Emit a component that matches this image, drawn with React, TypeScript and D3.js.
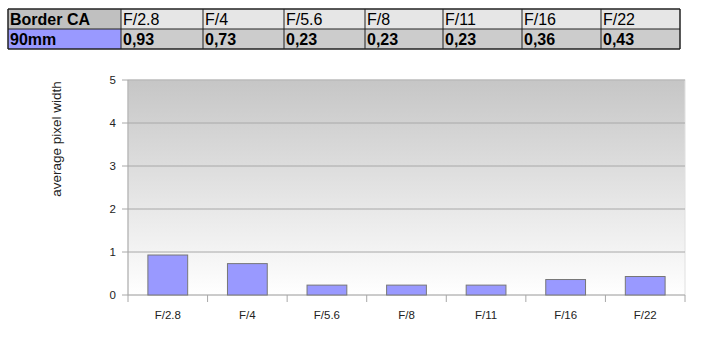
import React from "react";
import * as d3 from "d3";

const rowLabel = "Border CA";
const seriesName = "90mm";
const categories = ["F/2.8", "F/4", "F/5.6", "F/8", "F/11", "F/16", "F/22"];
const values = [0.93, 0.73, 0.23, 0.23, 0.23, 0.36, 0.43];
const tableValues = ["0,93", "0,73", "0,23", "0,23", "0,23", "0,36", "0,43"];
const yTicks = [0, 1, 2, 3, 4, 5];
const yLabel = "average pixel width";

export default function App() {
  const W = 705, H = 350;
  // table
  const colEdges = [8, 121, 203, 284, 365, 443, 522, 601, 680];
  const rowEdges = [9, 29, 49];
  // plot
  const left = 128, right = 685, top = 80, bottom = 295;
  const x = d3.scaleBand<string>().domain(categories).range([left, right]).paddingInner(0.5).paddingOuter(0.25);
  const xb = d3.scaleBand<string>().domain(categories).range([left, right]);
  const y = d3.scaleLinear().domain([0, 5]).range([bottom, top]);
  const font = "'Liberation Sans', Arial, sans-serif";

  return (
    <svg width={W} height={H} style={{ position: "absolute", left: 0, top: 0 }}>
      <defs>
        <linearGradient id="bg" x1="0" y1="0" x2="0" y2="1">
          <stop offset="0" stopColor="#c6c6c6" />
          <stop offset="1" stopColor="#ffffff" />
        </linearGradient>
      </defs>
      <rect width={W} height={H} fill="#fff" />
      {/* table */}
      {[0, 1].map((r) =>
        colEdges.slice(0, -1).map((cx, c) => {
          let fill = "#e6e6e6";
          if (r === 0 && c === 0) fill = "#c0c0c0";
          if (r === 1) fill = c === 0 ? "#9999ff" : "#cccccc";
          const txt = c === 0 ? (r === 0 ? rowLabel : seriesName) : r === 0 ? categories[c - 1] : tableValues[c - 1];
          const bold = r === 1 || c === 0;
          return (
            <g key={`${r}-${c}`}>
              <rect x={cx} y={rowEdges[r]} width={colEdges[c + 1] - cx} height={rowEdges[r + 1] - rowEdges[r]} fill={fill} />
              <text x={cx + 2} y={rowEdges[r] + 16} fontFamily={font} fontSize={16} fontWeight={bold ? "bold" : "normal"} fill="#000">
                {txt}
              </text>
            </g>
          );
        })
      )}
      {rowEdges.map((ry, i) => (
        <line key={"h" + i} x1={colEdges[0]} x2={colEdges[colEdges.length - 1]} y1={ry} y2={ry} stroke="#222" strokeWidth={i === 0 || i === 2 ? 1.5 : 1} />
      ))}
      {colEdges.map((cx, i) => (
        <line key={"v" + i} x1={cx} x2={cx} y1={rowEdges[0]} y2={rowEdges[2]} stroke="#222" strokeWidth={i === 0 || i === colEdges.length - 1 ? 1.5 : 1} />
      ))}

      {/* plot */}
      <rect x={left} y={top} width={right - left} height={bottom - top} fill="url(#bg)" stroke="#e0e0e0" />
      {yTicks.map((t) => (
        <g key={"y" + t}>
          <line x1={left - 6} x2={right} y1={y(t)} y2={y(t)} stroke="#a8a8a8" strokeWidth={1} />
          <text x={116} y={y(t) + 4} textAnchor="end" fontFamily={font} fontSize={11.5} fill="#222">
            {t}
          </text>
        </g>
      ))}
      <line x1={left} x2={left} y1={top} y2={bottom + 7} stroke="#a8a8a8" />
      {categories.map((c, i) => (
        <line key={"xt" + i} x1={(xb(c) as number) + xb.bandwidth()} x2={(xb(c) as number) + xb.bandwidth()} y1={bottom} y2={bottom + 7} stroke="#a8a8a8" />
      ))}
      {categories.map((c, i) => (
        <rect key={"b" + i} x={x(c) as number} y={y(values[i])} width={x.bandwidth()} height={y(0) - y(values[i])} fill="#9999ff" stroke="#777" strokeWidth={1} />
      ))}
      {categories.map((c, i) => (
        <text key={"xl" + i} x={(x(c) as number) + x.bandwidth() / 2} y={319} textAnchor="middle" fontFamily={font} fontSize={11.5} fill="#222">
          {c}
        </text>
      ))}
      <text transform={`translate(61,139) rotate(-90)`} textAnchor="middle" fontFamily={font} fontSize={13.5} fill="#222">
        {yLabel}
      </text>
    </svg>
  );
}
